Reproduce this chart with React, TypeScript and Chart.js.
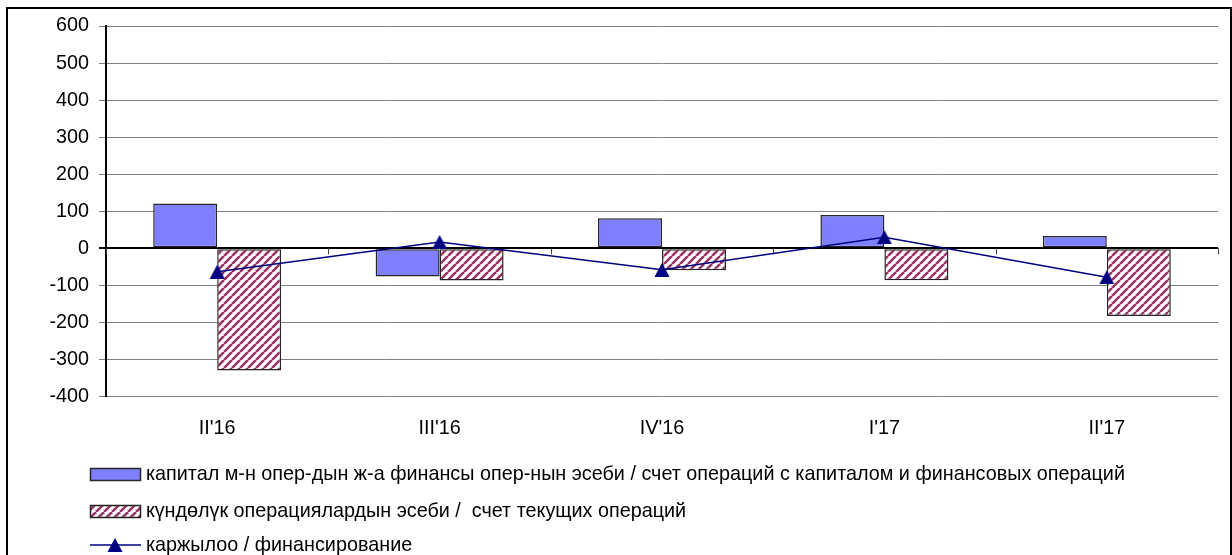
import React, { useEffect, useRef } from 'react';
import { Chart, registerables } from 'chart.js';

Chart.register(...registerables);

const categories = ["II'16", "III'16", "IV'16", "I'17", "II'17"];
const capitalAccount = [121, -76, 81, 90, 33];
const currentAccount = [-330, -87, -59, -86, -183];
const financing = [-63, 17, -58, 30, -78];
const yMin = -400;
const yMax = 600;
const yStep = 100;

const seriesLabels = [
  'капитал м-н опер-дын ж-а финансы опер-нын эсеби / счет операций с капиталом и финансовых операций',
  'күндөлүк операциялардын эсеби /  счет текущих операций',
  'каржылоо / финансирование',
];

const FONT = '"Liberation Sans", Arial, sans-serif';
const FS = 19.8;

function makeHatch(): CanvasPattern | string {
  const c = document.createElement('canvas');
  c.width = 8;
  c.height = 8;
  const g = c.getContext('2d');
  if (!g) return '#993366';
  g.fillStyle = '#ffffff';
  g.fillRect(0, 0, 8, 8);
  g.strokeStyle = '#993366';
  g.lineWidth = 2.6;
  for (const k of [-8, 0, 8]) {
    g.beginPath();
    g.moveTo(k, 8);
    g.lineTo(k + 8, 0);
    g.stroke();
  }
  return g.createPattern(c, 'repeat') as CanvasPattern;
}

function makeTriangle(): HTMLCanvasElement {
  const c = document.createElement('canvas');
  c.width = 16;
  c.height = 14;
  const g = c.getContext('2d');
  if (g) {
    g.fillStyle = '#000080';
    g.beginPath();
    g.moveTo(8, 0);
    g.lineTo(15.5, 14);
    g.lineTo(0.5, 14);
    g.closePath();
    g.fill();
  }
  return c;
}

export default function App() {
  const ref = useRef<HTMLCanvasElement>(null);

  useEffect(() => {
    if (!ref.current) return;
    const hatch = makeHatch();
    const tri = makeTriangle();

    const zeroTicks = {
      id: 'zeroTicks',
      beforeDatasetsDraw(chart: any) {
        const x = chart.scales.x;
        const y = chart.scales.y;
        const ctx = chart.ctx;
        const y0 = y.getPixelForValue(0);
        ctx.save();
        ctx.strokeStyle = '#404040';
        ctx.lineWidth = 1;
        for (let i = 0; i <= categories.length; i++) {
          const px = Math.round(x.getPixelForValue(i - 0.5)) + 0.5;
          ctx.beginPath();
          ctx.moveTo(px, y0);
          ctx.lineTo(px, y0 + 6);
          ctx.stroke();
        }
        ctx.restore();
      },
    };

    const legendPlugin = {
      id: 'customLegend',
      afterDraw(chart: any) {
        const ctx = chart.ctx;
        const ds = chart.data.datasets;
        ctx.save();
        ctx.font = `${FS}px ${FONT}`;
        ctx.textBaseline = 'middle';
        ctx.textAlign = 'left';
        // row 1 : capital
        ctx.fillStyle = ds[0].backgroundColor;
        ctx.fillRect(90, 468, 51, 13);
        ctx.strokeStyle = '#262626';
        ctx.lineWidth = 1.5;
        ctx.strokeRect(90.5, 468.5, 50, 12);
        ctx.fillStyle = '#000';
        ctx.fillText(ds[0].label, 146, 475);
        // row 2 : current
        ctx.fillStyle = ds[1].backgroundColor;
        ctx.fillRect(90, 505, 51, 13);
        ctx.strokeRect(90.5, 505.5, 50, 12);
        ctx.fillStyle = '#000';
        ctx.fillText(ds[1].label, 146, 511.5);
        // row 3 : financing line
        ctx.strokeStyle = '#000080';
        ctx.lineWidth = 1.5;
        ctx.beginPath();
        ctx.moveTo(90, 545);
        ctx.lineTo(141, 545);
        ctx.stroke();
        ctx.drawImage(tri, 115 - 8, 545 - 7);
        ctx.fillStyle = '#000';
        ctx.fillText(ds[2].label, 146, 546);
        ctx.restore();
      },
    };

    const chart = new Chart(ref.current, {
      type: 'bar',
      data: {
        labels: categories,
        datasets: [
          {
            type: 'bar',
            label: seriesLabels[0],
            data: capitalAccount,
            backgroundColor: '#8080ff',
            borderColor: '#262626',
            borderWidth: 1.5,
            borderSkipped: false,
            categoryPercentage: 0.5755,
            barPercentage: 1,
            order: 2,
          },
          {
            type: 'bar',
            label: seriesLabels[1],
            data: currentAccount,
            backgroundColor: hatch as any,
            borderColor: '#262626',
            borderWidth: 1.5,
            borderSkipped: false,
            categoryPercentage: 0.5755,
            barPercentage: 1,
            order: 2,
          },
          {
            type: 'line',
            label: seriesLabels[2],
            data: financing,
            borderColor: '#000080',
            borderWidth: 1.5,
            backgroundColor: '#000080',
            pointStyle: tri as any,
            pointRadius: 8,
            tension: 0,
            fill: false,
            order: 0,
          } as any,
        ],
      },
      options: {
        animation: false,
        responsive: false,
        maintainAspectRatio: false,
        layout: { padding: { top: 26, left: 0, right: 14, bottom: 0 } },
        plugins: {
          legend: { display: false },
          tooltip: { enabled: false },
          title: { display: false },
        },
        scales: {
          x: {
            grid: { display: false, drawTicks: false },
            border: { display: false },
            ticks: {
              color: '#000',
              font: { family: FONT, size: FS },
              padding: 20,
              maxRotation: 0,
            },
            afterFit: (s: any) => {
              s.height = 158.5;
            },
          },
          y: {
            min: yMin,
            max: yMax,
            ticks: {
              stepSize: yStep,
              color: '#000',
              font: { family: FONT, size: FS },
              padding: 10,
            },
            grid: {
              color: (c: any) => (c.tick && c.tick.value === 0 ? '#000000' : '#808080'),
              lineWidth: (c: any) => (c.tick && c.tick.value === 0 ? 2 : 1),
              tickLength: 7,
              drawTicks: true,
            },
            border: { display: true, color: '#000000', width: 2 },
            afterFit: (s: any) => {
              s.width = 106;
            },
          },
        },
      },
      plugins: [zeroTicks, legendPlugin],
    });

    return () => chart.destroy();
  }, []);

  return (
    <div style={{ position: 'absolute', left: 0, top: 0, width: 1232, height: 555, overflow: 'hidden', background: '#fff' }}>
      <div
        style={{
          position: 'absolute',
          left: 6,
          top: 7,
          width: 1226,
          height: 620,
          border: '2px solid #000',
          boxSizing: 'border-box',
        }}
      />
      <canvas ref={ref} width={1232} height={555} style={{ position: 'absolute', left: 0, top: 0, width: 1232, height: 555 }} />
    </div>
  );
}
